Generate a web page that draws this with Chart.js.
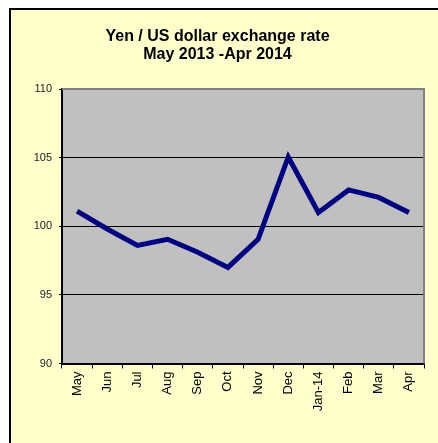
<!DOCTYPE html>
<html>
<head>
<meta charset="utf-8">
<script src="https://cdn.jsdelivr.net/npm/chart.js@4"></script>
<style>
  html, body { margin: 0; padding: 0; background: #ffffff; overflow: hidden; }
  canvas { display: block; }
</style>
</head>
<body>
<canvas id="myChart" width="438" height="443"></canvas>
<script>
// chart data
var months = ['May','Jun','Jul','Aug','Sep','Oct','Nov','Dec','Jan-14','Feb','Mar','Apr'];
var yenRate = [101.1, 99.8, 98.6, 99.05, 98.1, 97.0, 99.05, 105.05, 101.0, 102.65, 102.1, 101.0];
var titleLines = ['Yen / US dollar exchange rate', 'May 2013 -Apr 2014'];
var yMin = 90, yMax = 110, yStep = 5;

var font = 'Liberation Sans, Arial, sans-serif';

// yellow chart sheet, grey plot background, grey top/right frame
var plotBg = {
  id: 'plotBg',
  beforeDraw: function(chart) {
    var a = chart.chartArea, c = chart.ctx;
    c.save();
    c.fillStyle = '#ffffff';
    c.fillRect(0, 0, chart.width, chart.height);
    c.fillStyle = '#FFFFCC';
    c.fillRect(9, 8, chart.width - 9, chart.height - 8);
    c.strokeStyle = '#000';
    c.lineWidth = 2;
    c.beginPath();
    c.moveTo(10, chart.height);
    c.lineTo(10, 9);
    c.lineTo(chart.width, 9);
    c.stroke();
    c.fillStyle = '#C0C0C0';
    c.fillRect(a.left, a.top, a.right - a.left, a.bottom - a.top);
    c.restore();
  },
  afterDraw: function(chart) {
    var a = chart.chartArea, c = chart.ctx;
    c.save();
    c.strokeStyle = '#808080';
    c.lineWidth = 2;
    c.beginPath();
    c.moveTo(a.left, a.top);
    c.lineTo(a.right, a.top);
    c.lineTo(a.right, a.bottom);
    c.stroke();
    c.restore();
  }
};

var ctx = document.getElementById('myChart');
var myChart = new Chart(ctx, {
  type: 'line',
  data: {
    labels: months,
    datasets: [{
      data: yenRate,
      borderColor: '#000080',
      borderWidth: 5,
      pointRadius: 0,
      tension: 0,
      borderJoinStyle: 'miter',
      fill: false
    }]
  },
  options: {
    responsive: false,
    animation: false,
    layout: { padding: { left: 11, right: 14, top: 10, bottom: 0 } },
    plugins: {
      legend: { display: false },
      tooltip: { enabled: false },
      title: {
        display: true,
        text: titleLines,
        color: '#000',
        font: { family: font, size: 16, weight: 'bold', lineHeight: 1.125 },
        padding: { top: 18, bottom: 25 }
      }
    },
    scales: {
      x: {
        offset: true,
        grid: {
          offset: true,
          drawOnChartArea: false,
          color: '#000',
          tickLength: 5
        },
        border: { color: '#000', width: 2 },
        ticks: {
          color: '#000',
          font: { family: font, size: 13 },
          minRotation: 90,
          maxRotation: 90,
          padding: 3,
          autoSkip: false
        },
        afterFit: function(s) { s.height = 79.5; }
      },
      y: {
        min: yMin,
        max: yMax,
        grid: { color: '#000', lineWidth: 1, tickLength: 3 },
        border: { color: '#000', width: 2 },
        ticks: {
          stepSize: yStep,
          color: '#222',
          font: { family: font, size: 11 },
          padding: 7
        },
        afterFit: function(s) { s.width = 51; }
      }
    }
  },
  plugins: [plotBg]
});
</script>
</body>
</html>
